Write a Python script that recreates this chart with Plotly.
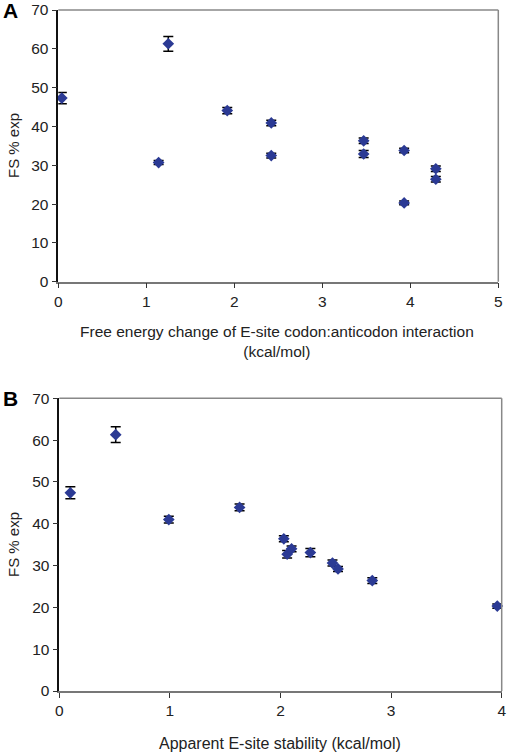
import plotly.graph_objects as go

# Panel A data
a_x = [0.04, 1.14, 1.25, 1.92, 2.42, 2.42, 3.47, 3.47, 3.93, 3.93, 4.29, 4.29]
a_y = [47.3, 30.7, 61.3, 44.1, 40.9, 32.5, 36.3, 32.9, 33.8, 20.3, 29.1, 26.4]
a_err = [1.45, 0.5, 1.9, 0.8, 0.7, 0.6, 0.7, 0.9, 0.6, 0.5, 0.7, 0.7]

# Panel B data
b_x = [0.10, 0.51, 0.99, 1.63, 2.03, 2.06, 2.10, 2.27, 2.47, 2.52, 2.83, 3.96]
b_y = [47.4, 61.3, 41.0, 43.9, 36.4, 32.7, 34.0, 33.1, 30.6, 29.2, 26.4, 20.3]
b_err = [1.45, 1.9, 0.8, 0.8, 0.7, 0.9, 0.7, 1.0, 0.7, 0.6, 0.7, 0.5]

y_ticks = [0, 10, 20, 30, 40, 50, 60, 70]
a_xticks = [0, 1, 2, 3, 4, 5]
b_xticks = [0, 1, 2, 3, 4]

W, H = 507, 756
marker_color = "#2b3a94"
fnt = "Liberation Sans, Arial, sans-serif"

fig = go.Figure()
fig.add_trace(go.Scatter(
    x=a_x, y=a_y, mode="markers", xaxis="x", yaxis="y",
    marker=dict(symbol="diamond", size=9, color=marker_color),
    error_y=dict(type="data", array=a_err, color="black", thickness=1.5, width=5),
    showlegend=False, cliponaxis=False))
fig.add_trace(go.Scatter(
    x=b_x, y=b_y, mode="markers", xaxis="x2", yaxis="y2",
    marker=dict(symbol="diamond", size=9, color=marker_color),
    error_y=dict(type="data", array=b_err, color="black", thickness=1.5, width=5),
    showlegend=False, cliponaxis=False))

def px_x(p):
    return p / W

def px_y(p):
    return 1 - p / H

axis_common = dict(showgrid=False, zeroline=False, ticks="outside", ticklen=5,
                   tickcolor="#333", tickfont=dict(size=15.5, color="#222", family=fnt),
                   showline=True, linewidth=1.5, mirror=False, automargin=False)

fig.update_layout(
    width=W, height=H, margin=dict(l=0, r=0, t=0, b=0, autoexpand=False),
    paper_bgcolor="white", plot_bgcolor="white",
    xaxis=dict(domain=[px_x(58.3), px_x(498.3)], range=[0, 5], tickvals=a_xticks,
               anchor="y", linecolor="#777", **axis_common),
    yaxis=dict(domain=[px_y(281.7), px_y(10)], range=[0, 70], tickvals=y_ticks,
               anchor="x", linecolor="#111", **axis_common),
    xaxis2=dict(domain=[px_x(59.3), px_x(501.7)], range=[0, 4], tickvals=b_xticks,
                anchor="y2", linecolor="#777", **axis_common),
    yaxis2=dict(domain=[px_y(691), px_y(398.3)], range=[0, 70], tickvals=y_ticks,
                anchor="x2", linecolor="#111", **axis_common),
    shapes=[
        dict(type="line", xref="paper", yref="paper", x0=px_x(58.3), x1=px_x(498.3),
             y0=px_y(10), y1=px_y(10), line=dict(color="#888", width=1.5)),
        dict(type="line", xref="paper", yref="paper", x0=px_x(498.3), x1=px_x(498.3),
             y0=px_y(10), y1=px_y(281.7), line=dict(color="#888", width=1.5)),
        dict(type="line", xref="paper", yref="paper", x0=px_x(59.3), x1=px_x(501.7),
             y0=px_y(398.3), y1=px_y(398.3), line=dict(color="#888", width=1.5)),
        dict(type="line", xref="paper", yref="paper", x0=px_x(501.7), x1=px_x(501.7),
             y0=px_y(398.3), y1=px_y(691), line=dict(color="#888", width=1.5)),
    ],
    annotations=[
        dict(text="<b>A</b>", xref="paper", yref="paper", x=px_x(1), y=px_y(10),
             xanchor="left", yanchor="middle", showarrow=False,
             font=dict(size=21, color="black", family=fnt)),
        dict(text="<b>B</b>", xref="paper", yref="paper", x=px_x(1), y=px_y(398),
             xanchor="left", yanchor="middle", showarrow=False,
             font=dict(size=21, color="black", family=fnt)),
        dict(text="FS % exp", xref="paper", yref="paper", x=px_x(13), y=px_y(146),
             xanchor="center", yanchor="middle", textangle=-90, showarrow=False,
             font=dict(size=15, color="#222", family=fnt)),
        dict(text="FS % exp", xref="paper", yref="paper", x=px_x(13), y=px_y(545),
             xanchor="center", yanchor="middle", textangle=-90, showarrow=False,
             font=dict(size=15, color="#222", family=fnt)),
        dict(text="Free energy change of E-site codon:anticodon interaction<br>(kcal/mol)",
             xref="paper", yref="paper", x=px_x(277), y=px_y(341),
             xanchor="center", yanchor="middle", showarrow=False,
             font=dict(size=15.5, color="#222", family=fnt)),
        dict(text="Apparent E-site stability (kcal/mol)",
             xref="paper", yref="paper", x=px_x(280), y=px_y(743),
             xanchor="center", yanchor="middle", showarrow=False,
             font=dict(size=16, color="#222", family=fnt)),
    ],
)

fig.write_html("out.html", config={"displayModeBar": False},
               post_script="document.body.style.margin='0px';document.body.style.overflow='hidden';")
